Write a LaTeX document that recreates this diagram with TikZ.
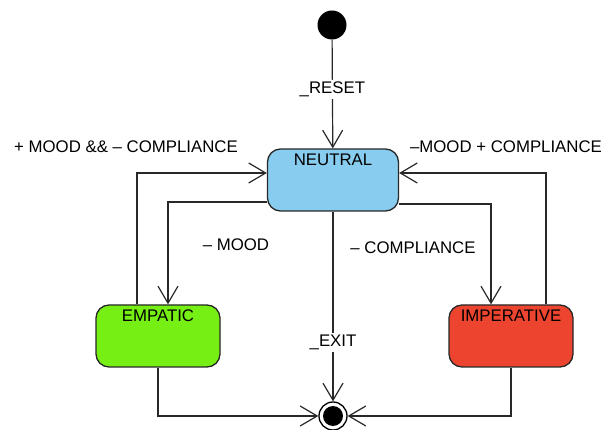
\documentclass[tikz,border=0pt]{standalone}
\usepackage{fontspec}
\setmainfont{Liberation Sans}
\usetikzlibrary{arrows.meta}
\definecolor{neutralfill}{RGB}{136,205,240}
\definecolor{empaticfill}{RGB}{118,240,20}
\definecolor{imperfill}{RGB}{236,68,46}
\definecolor{edge}{RGB}{40,40,40}
\begin{document}
\begin{tikzpicture}[x=1pt, y=-1pt,
  font=\fontsize{16.8}{20}\selectfont,
  state/.style={draw=edge, line width=1.3pt, rounded corners=13pt, rectangle,
    minimum width=124pt, minimum height=62pt, inner sep=0pt},
  statelabel/.style={anchor=north, inner sep=0pt, yshift=-5pt, text=black},
  arr/.style={draw=edge, line width=1.2pt,
    -{Straight Barb[length=17pt, width=20pt, line width=1.2pt]}},
  lbl/.style={fill=white, inner sep=2pt, text=black},
  txt/.style={inner sep=0pt, text=black}]
  \useasboundingbox (0,0) rectangle (606,430);
  \clip (0,0) rectangle (606,430);

  % pseudo-states
  \node[circle, fill=black, minimum size=29pt, inner sep=0pt] (init) at (332,25) {};
  \node[circle, draw=black, line width=1.3pt, minimum size=28pt, inner sep=0pt,
    path picture={\fill[black] (path picture bounding box.center) circle[radius=10pt];}]
    (final) at (333,416) {};

  % states
  \node[state, fill=neutralfill, minimum width=131pt,
    label={[statelabel]north:NEUTRAL}] (neutral) at (333,180) {};
  \node[state, fill=empaticfill,
    label={[statelabel]north:EMPATIC}] (empatic) at (158,336) {};
  \node[state, fill=imperfill,
    label={[statelabel]north:IMPERATIVE}] (imper) at (511,336) {};

  % transitions
  \draw[arr] (init) -- node[lbl, pos=0.46] {\_RESET} (neutral);
  \draw[arr] ([yshift=-22pt]neutral.west) -| ([xshift=10pt]empatic.north);
  \draw[arr] ([xshift=-21pt]empatic.north) |- ([yshift=7pt]neutral.west);
  \draw[arr] ([yshift=-24pt]neutral.east) -| ([xshift=-20pt]imper.north);
  \draw[arr] ([xshift=35pt]imper.north) |- ([yshift=7pt]neutral.east);
  \draw[arr] (neutral) -- node[lbl, pos=0.69] {\_EXIT} (final);
  \draw[arr] (empatic.south) |- (final);
  \draw[arr] (imper.south) |- (final);

  % guard labels
  \node[txt] (gEmpNeu) at (126,147) {+ MOOD \&\& – COMPLIANCE};
  \node[txt] (gImpNeu) at (506,147) {–MOOD + COMPLIANCE};
  \node[txt] (gNeuEmp) at (236,245) {– MOOD};
  \node[txt] (gNeuImp) at (413,248) {– COMPLIANCE};
\end{tikzpicture}
\end{document}
